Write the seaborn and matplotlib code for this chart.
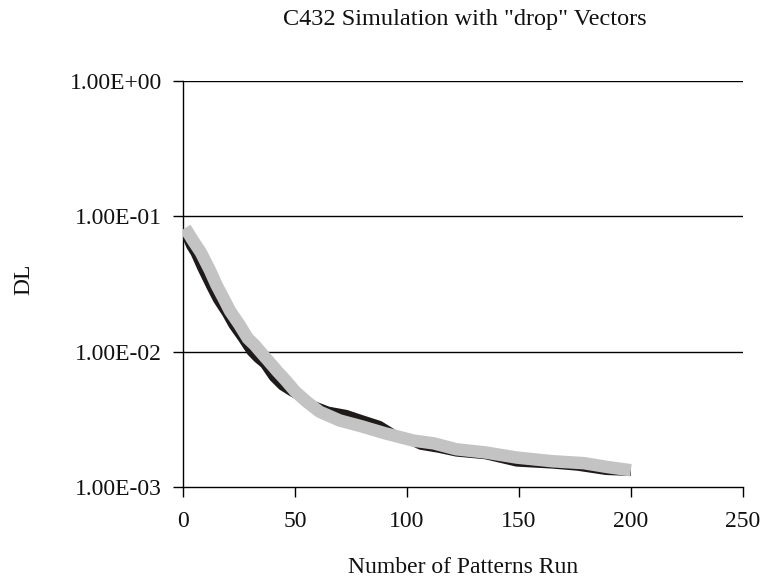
import matplotlib
matplotlib.use("Agg")
import matplotlib.pyplot as plt
import seaborn as sns
import pandas as pd
from matplotlib.ticker import FixedLocator, FixedFormatter, NullLocator

# ---- data ----
gray_x = [1, 4, 8, 12, 15, 18, 21, 25, 29, 32, 35, 38, 42, 46, 50, 55, 61, 70,
          80, 90, 103, 112, 122, 135, 149, 165, 179, 190, 200]
gray_y = [0.082, 0.068, 0.054, 0.040, 0.031, 0.025, 0.020, 0.016, 0.0125,
          0.0112, 0.0098, 0.0086, 0.0072, 0.0061, 0.0051, 0.0043, 0.0036,
          0.0031, 0.0028, 0.0025, 0.0022, 0.0021, 0.0019, 0.0018, 0.00165,
          0.00155, 0.0015, 0.0014, 0.00133]

black_x = [1, 3, 5, 8, 12, 15, 19, 22, 26, 30, 33, 36, 40, 44, 48, 53, 58, 65,
           73, 80, 88, 96, 106, 114, 122, 135, 149, 165, 176, 189, 200]
black_y = [0.072, 0.060, 0.053, 0.041, 0.030, 0.024, 0.019, 0.0155, 0.0125,
           0.0099, 0.0088, 0.0080, 0.0064, 0.0055, 0.0050, 0.0045, 0.0041,
           0.0037, 0.0035, 0.0032, 0.0029, 0.0024, 0.0020, 0.0019, 0.00178,
           0.0017, 0.0015, 0.00145, 0.0014, 0.0013, 0.00128]

x_ticks = [0, 50, 100, 150, 200, 250]
y_ticks = [1e-3, 1e-2, 1e-1, 1e0]
y_tick_labels = ["1.00E-03", "1.00E-02", "1.00E-01", "1.00E+00"]

title = 'C432 Simulation with "drop" Vectors'
x_label = "Number of Patterns Run"
y_label = "DL"

# ---- plot ----
sns.set_theme(style="white")
plt.rcParams["font.family"] = ["Liberation Serif", "DejaVu Serif"]

fig = plt.figure(figsize=(7.73, 5.81), dpi=100)
ax = fig.add_axes([0.2367, 0.1618, 0.961 - 0.2367, 0.8606 - 0.1618])

df_b = pd.DataFrame({"x": black_x, "y": black_y})
df_g = pd.DataFrame({"x": gray_x, "y": gray_y})
sns.lineplot(data=df_b, x="x", y="y", ax=ax, color="#1e1a1a", linewidth=5,
             solid_capstyle="butt", zorder=3)
sns.lineplot(data=df_g, x="x", y="y", ax=ax, color="#c3c3c3", linewidth=9,
             solid_capstyle="butt", zorder=4)

ax.set_yscale("log")
ax.set_xlim(0, 250)
ax.set_ylim(1e-3, 1e0)
ax.xaxis.set_major_locator(FixedLocator(x_ticks))
ax.yaxis.set_major_locator(FixedLocator(y_ticks))
ax.yaxis.set_major_formatter(FixedFormatter(y_tick_labels))
ax.yaxis.set_minor_locator(NullLocator())

for v in [1e-2, 1e-1, 1e0]:
    ax.axhline(v, color="black", linewidth=1.0, zorder=1)

for s in ["top", "right"]:
    ax.spines[s].set_visible(False)
for s in ["left", "bottom"]:
    ax.spines[s].set_color("black")
    ax.spines[s].set_linewidth(1.0)

ax.tick_params(axis="both", direction="out", length=7, width=1, color="black",
               labelsize=17, labelcolor="#111111", left=True, bottom=True)
ax.tick_params(axis="y", pad=8)
ax.tick_params(axis="x", pad=10)

ax.set_xlabel(x_label, fontsize=17, labelpad=18, color="#111111")
ax.set_ylabel(y_label, fontsize=17, color="#111111")
ax.yaxis.set_label_coords(-0.266, 0.512)
fig.text(0.6016, 0.966, title, ha="center", va="center", fontsize=17.5,
         color="#111111")

fig.savefig("out.png", dpi=100)
